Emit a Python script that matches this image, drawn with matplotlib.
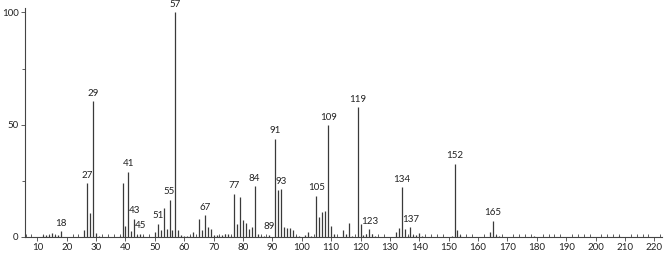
import numpy as np
import matplotlib
matplotlib.use('Agg')
import matplotlib.pyplot as plt
from matplotlib.ticker import MultipleLocator

plt.rcParams['font.family'] = ['Lato', 'DejaVu Sans']

# m/z and relative abundance (% of base peak)
mz = [12, 13, 14, 15, 16, 17, 18, 26, 27, 28, 29, 30, 31, 38, 39, 40, 41, 42,
      43, 44, 45, 46, 50, 51, 52, 53, 54, 55, 56, 57, 58, 59, 60, 61, 62, 63,
      65, 66, 67, 68, 69, 70, 71, 72, 73, 74, 75, 76, 77, 78, 79, 80, 81, 82,
      83, 84, 85, 86, 87, 89, 91, 92, 93, 94, 95, 96, 97, 98, 99, 101, 102,
      103, 105, 106, 107, 108, 109, 110, 111, 114, 115, 116, 117, 119, 120,
      121, 122, 123, 124, 125, 132, 133, 134, 135, 136, 137, 138, 139, 140,
      141, 151, 152, 153, 154, 164, 165, 166, 167, 179, 208]
abund = [0.8, 0.8, 1.0, 1.6, 1.0, 1.0, 2.7, 3.0, 24.0, 10.5, 60.5, 1.8, 0.5,
         0.5, 24.0, 4.7, 29.0, 2.7, 8.1, 1.0, 1.5, 0.5, 2.0, 5.9, 3.0, 12.7,
         3.5, 16.6, 3.3, 100.0, 3.3, 1.0, 0.5, 0.5, 0.5, 2.0, 8.1, 3.0, 9.6,
         4.4, 3.7, 0.7, 0.7, 0.5, 1.0, 1.2, 1.5, 0.5, 19.3, 5.9, 18.0, 7.4,
         6.3, 3.7, 4.4, 22.5, 1.2, 0.6, 0.5, 1.0, 43.8, 20.7, 21.4, 4.4, 4.1,
         4.1, 3.0, 0.5, 0.5, 0.7, 2.2, 0.5, 18.4, 8.9, 11.0, 11.5, 49.7, 4.7,
         1.2, 3.0, 1.2, 6.2, 0.5, 57.8, 5.9, 0.7, 1.5, 3.4, 1.5, 0.5, 2.2, 4.1,
         22.2, 3.7, 0.5, 4.3, 0.7, 1.0, 1.8, 0.5, 0.5, 32.6, 3.2, 0.7, 2.0,
         7.2, 1.0, 0.5, 0.5, 0.4]
# peaks that carry an m/z label
labelled = [18, 27, 29, 41, 43, 45, 51, 55, 57, 67, 77, 84, 89, 91, 93, 105,
            109, 119, 123, 134, 137, 152, 165]

fig = plt.figure(figsize=(6.66, 2.54), dpi=100)
ax = fig.add_axes([0.0375, 0.067, 0.956, 0.902])

ax.vlines(mz, 0, abund, colors='#3a3a3a', linewidth=0.9)
for m, a in zip(mz, abund):
    if m in labelled:
        ax.text(m, a + 1.5, str(m), ha='center', va='bottom', fontsize=7,
                color='#222222')

ax.set_xlim(5.8, 222.5)
ax.set_ylim(0, 102)
ax.xaxis.set_major_locator(MultipleLocator(10))
ax.xaxis.set_minor_locator(MultipleLocator(2))
ax.set_xticks(range(10, 221, 10))
ax.set_yticks([0, 50, 100])
ax.yaxis.set_minor_locator(MultipleLocator(25))
ax.tick_params(axis='both', which='major', labelsize=7, length=3, width=0.6,
               pad=1.5, color='#444444', labelcolor='#222222')
ax.tick_params(axis='x', which='minor', direction='in', length=2, width=0.6,
               color='#444444')
ax.tick_params(axis='y', which='minor', direction='out', length=2, width=0.6,
               color='#444444')
for side in ('top', 'right'):
    ax.spines[side].set_visible(False)
for side in ('left', 'bottom'):
    ax.spines[side].set_linewidth(0.8)
    ax.spines[side].set_color('#444444')

fig.savefig('out.png', dpi=100)
